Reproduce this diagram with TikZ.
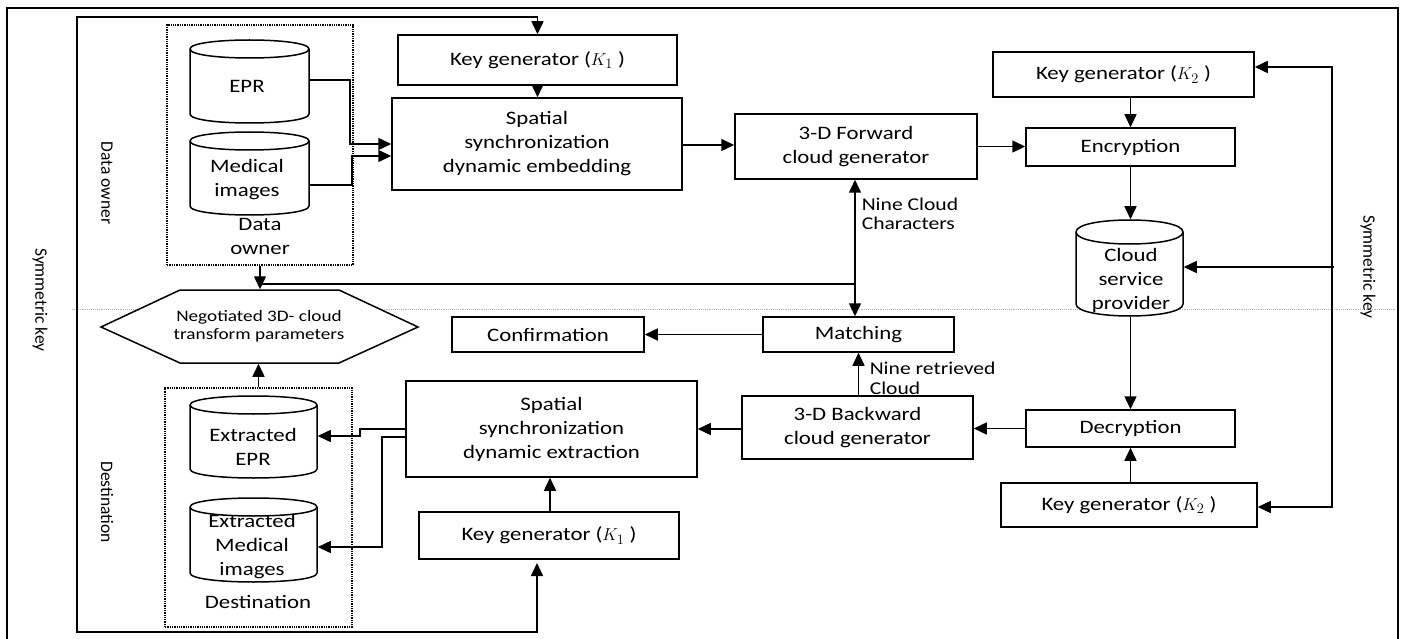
\documentclass[tikz,border=0pt]{standalone}
\usepackage{fontspec}
\setmainfont{Carlito}[FakeStretch=1.2]
\newfontfamily\rfont{Carlito}
\usetikzlibrary{arrows.meta,calc}
\newcommand\mycyl[5]{%
  \draw[fill=white] ({#1},{#2+#5}) -- ({#1},{#4-#5})
    .. controls ({#1},{#4-#5+4/3*#5}) and ({#3},{#4-#5+4/3*#5}) .. ({#3},{#4-#5})
    -- ({#3},{#2+#5})
    .. controls ({#3},{#2+#5-4/3*#5}) and ({#1},{#2+#5-4/3*#5}) .. ({#1},{#2+#5}) -- cycle;
  \draw ({#1},{#2+#5}) .. controls ({#1},{#2+#5+4/3*#5}) and ({#3},{#2+#5+4/3*#5}) .. ({#3},{#2+#5});}
\begin{document}
\begin{tikzpicture}[x=1pt,y=-1pt,line width=1.5pt,
  font=\fontsize{19}{24}\selectfont,
  box/.style={draw,fill=white,align=center,inner sep=0pt},
  ghost/.style={inner sep=0pt,draw=none},
  txt/.style={inner sep=0pt,align=center},
  arr/.style={-{Triangle[length=13pt,width=12pt]}},
  arrboth/.style={{Triangle[length=13pt,width=12pt]}-{Triangle[length=13pt,width=12pt]}},
  rot/.style={rotate=-90,inner sep=0pt,font=\rfont\fontsize{17.5}{20}\selectfont},
  dbox/.style={draw,densely dotted,line width=1.3pt,inner sep=0pt}]
\useasboundingbox (0,0) rectangle (1405,639);
% outer frame
\draw[line width=1.6pt] (7,639) -- (7,8) -- (1398,8) -- (1398,639);
% separator
\draw[gray!60,densely dotted,line width=0.9pt] (72,309) -- (1395,309);
% rotated labels
\node[rot] (symL) at (40,300) {Symmetric key};
\node[rot] (symR) at (1368,267) {Symmetric key};
\node[rot] (lblOwner) at (107,183) {Data owner};
\node[rot] (lblDest) at (107,502) {Destination};
% dotted boxes
\node[dbox,minimum width=186pt,minimum height=240pt] (owner) at (260,145) {};
\node[dbox,minimum width=187pt,minimum height=239pt] (dest) at (258.5,507.5) {};
% cylinders
\mycyl{190}{40}{309}{123}{9}
\node[ghost,minimum width=119pt,minimum height=83pt] (epr) at (249.5,81.5) {};
\node[txt] (eprt) at (247,86) {EPR};
\mycyl{190}{132}{309}{215}{9}
\node[ghost,minimum width=119pt,minimum height=83pt] (med) at (249.5,173.5) {};
\node[txt] (medt) at (247,180) {Medical\\images};
\node[txt] (ownert) at (260,236) {Data\\owner};
\mycyl{190}{396}{317}{478}{9}
\node[ghost,minimum width=127pt,minimum height=82pt] (xepr) at (253.5,437) {};
\node[txt] (xeprt) at (253,447) {Extracted\\EPR};
\mycyl{190}{498}{317}{582}{9}
\node[ghost,minimum width=127pt,minimum height=84pt] (xmed) at (253.5,540) {};
\node[txt] (xmedt) at (252,547) {Extracted\\Medical\\images};
\node[txt] (destt) at (258,602) {Destination};
\mycyl{1076}{220}{1183}{316}{12}
\node[ghost,minimum width=107pt,minimum height=96pt] (csp) at (1129.5,268) {};
\node[txt] (cspt) at (1131,280) {Cloud\\service\\provider};
% hexagon
\draw[fill=white] (101,327) -- (180,290) -- (339,290) -- (418,327) -- (339,363) -- (180,363) -- cycle;
\node[ghost,minimum width=317pt,minimum height=73pt] (hex) at (259.5,326.5) {};
\node[txt,font=\fontsize{16}{18}\selectfont] (hext) at (259,326) {Negotiated 3D- cloud\\transform parameters};
% boxes
\node[box,minimum width=279pt,minimum height=50pt] (kg1t) at (537.5,60) {Key generator (\(K_1\) )};
\node[box,minimum width=290pt,minimum height=92pt] (sse) at (537,144) {Spatial\\synchronization\\dynamic embedding};
\node[box,minimum width=242pt,minimum height=65pt] (fwd) at (856,146.5) {3-D Forward\\cloud generator};
\node[box,minimum width=261pt,minimum height=45pt] (kg2t) at (1123.5,74.5) {Key generator (\(K_2\) )};
\node[box,minimum width=209pt,minimum height=38pt] (enc) at (1130.5,147) {Encryption};
\node[box,minimum width=209pt,minimum height=37pt] (dec) at (1130.5,428.5) {Decryption};
\node[box,minimum width=256pt,minimum height=44pt] (kg2b) at (1129,505) {Key generator (\(K_2\) )};
\node[box,minimum width=231pt,minimum height=63pt] (bwd) at (857.5,427.5) {3-D Backward\\cloud generator};
\node[box,minimum width=191pt,minimum height=35pt] (match) at (858.5,334.5) {Matching};
\node[box,minimum width=192pt,minimum height=35pt] (conf) at (548,334.5) {Confirmation};
\node[box,minimum width=291pt,minimum height=96pt] (sxe) at (551.5,429) {Spatial\\synchronization\\dynamic extraction};
\node[box,minimum width=260pt,minimum height=47pt] (kg1b) at (549,535.5) {Key generator (\(K_1\) )};
% edge labels
\node[txt,align=left,anchor=west,font=\fontsize{18}{19}\selectfont] (lbl1) at (861,214) {Nine Cloud\\Characters};
\node[txt,align=left,anchor=west,font=\fontsize{18}{20}\selectfont] (lbl2) at (869,378) {Nine retrieved\\Cloud};
% connectors
\draw[arrboth] (kg1t.north) -- (537.5,17) -- (77,17) -- (77,632) -- (537,632) -- (537,563);
\draw[arr] (epr.east |- 0,80) -- (350,80) -- (350,144) -- (sse.west |- 0,144);
\draw[arr] (309,185) -- (352,185) -- (352,156) -- (sse.west |- 0,156);
\draw[arr] (kg1t.south) -- (kg1t.south |- sse.north);
\draw[arr] (sse.east |- 0,145) -- (fwd.west |- 0,145);
\draw[arr] (fwd.east) -- (enc.west |- fwd.east);
\draw[arr] (kg2t.south -| enc.north) -- (enc.north);
\draw[arr] (enc.south) -- (csp.north -| enc.south);
\draw[arr] (csp.south -| dec.north) -- (dec.north);
\draw[arr] (kg2b.north -| dec.south) -- (dec.south);
\draw[arr] (dec.west) -- (bwd.east |- dec.west);
\draw[arr] (bwd.west |- 0,429) -- (sxe.east |- 0,429);
\draw[arr] (bwd.north -| match.south) -- (match.south);
\draw[arr] (match.west) -- (conf.east);
\draw[arr] (kg1b.north -| 550,0) -- (sxe.south -| 550,0);
\draw[arr] (owner.south) -- (hex.north -| owner.south);
\draw[arr] (dest.north) -- (hex.south -| dest.north);
\coordinate (j) at (855,284);
\draw (owner.south |- j) -- (j);
\draw[arr] (j) -- (j |- fwd.south);
\draw[arr] (j) -- (j |- match.north);
\draw[arr] (sxe.west |- 0,429) -- (360,429) -- (360,436) -- (xepr.east |- 0,436);
\draw[arr] (sxe.west |- 0,437) -- (382,437) -- (382,547) -- (xmed.east |- 0,547);
\draw[arrboth] (kg2t.east |- 0,67) -- (1332,67) -- (1332,507) -- (kg2b.east |- 0,507);
\coordinate (k) at (1334,267);
\draw[arr] (k) -- (csp.east |- k);
\end{tikzpicture}
\end{document}
